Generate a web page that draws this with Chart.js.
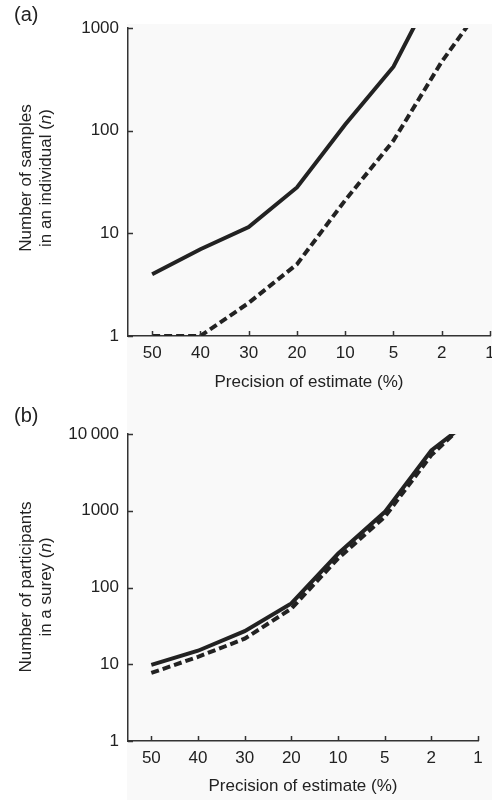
<!DOCTYPE html>
<html>
<head>
<meta charset="utf-8">
<script src="https://cdn.jsdelivr.net/npm/chart.js@4.4.1/dist/chart.umd.min.js"></script>
<style>
  html, body { margin: 0; padding: 0; background: #fff; }
  body { width: 492px; height: 800px; position: relative; overflow: hidden; }
  canvas { position: absolute; left: 0; }
  #grafA { top: 0; }
  #grafB { top: 400px; }
</style>
</head>
<body>
<canvas id="grafA" width="492" height="400"></canvas>
<canvas id="grafB" width="492" height="400"></canvas>
<script>
// precision categories along the x axis
const precisao = ['50', '40', '30', '20', '10', '5', '2', '1']

// (a) samples in an individual
const amostrasSolida = [4, 7, 11.5, 28, 115, 420, 3400, 14000]
const amostrasTracejada = [1, 1, 2.1, 5, 21, 80, 470, 2100]
const ticksA = [1, 10, 100, 1000]

// (b) participants in a survey
const participantesSolida = [9.8, 15, 27, 62, 275, 960, 6100, 18000]
const participantesTracejada = [7.7, 12.5, 21.5, 53, 238, 830, 5300, 20000]
const ticksB = [1, 10, 100, 1000, 10000]

const fonte = "'Liberation Sans', Arial, sans-serif"
const corTexto = '#222'

Chart.defaults.font.family = fonte
Chart.defaults.font.size = 17
Chart.defaults.color = corTexto

function pontos(valores) {
    return valores.map((v, i) => ({ x: i, y: v }))
}

function rotuloMilhar(v) {
    return v >= 10000 ? String(v).replace(/(\d)(?=(\d{3})+$)/g, '$1\u2009') : String(v)
}

// light plot background, inside ticks, panel letter and y title
const decoracao = {
    id: 'decoracao',
    beforeDraw(chart, args, opts) {
        const ctx = chart.ctx
        ctx.save()
        ctx.fillStyle = '#f9f9f9'
        ctx.fillRect(127, opts.fundoTopo, chart.width - 127, chart.height - opts.fundoTopo)
        ctx.restore()
    },
    afterDraw(chart, args, opts) {
        const ctx = chart.ctx
        const area = chart.chartArea
        const sx = chart.scales.x
        const sy = chart.scales.y
        ctx.save()
        ctx.strokeStyle = '#333'
        ctx.lineWidth = 1.5
        ctx.beginPath()
        sx.ticks.forEach(t => {
            let px = Math.round(sx.getPixelForValue(t.value)) + 0.5
            ctx.moveTo(px, area.bottom)
            ctx.lineTo(px, area.bottom - 5)
        })
        sy.ticks.forEach(t => {
            let py = Math.round(sy.getPixelForValue(t.value)) + 0.5
            ctx.moveTo(area.left, py)
            ctx.lineTo(area.left + 5, py)
        })
        ctx.stroke()

        ctx.fillStyle = corTexto
        ctx.font = '20px ' + fonte
        ctx.textBaseline = 'middle'
        ctx.textAlign = 'left'
        ctx.fillText(opts.letra, 14, opts.letraY)

        // rotated two-line y title, with italic n
        ctx.translate(0, opts.tituloY)
        ctx.rotate(-Math.PI / 2)
        ctx.font = '17px ' + fonte
        ctx.textAlign = 'center'
        ctx.fillText(opts.linha1, 0, opts.x1)
        let partes = [[opts.linha2, '17px '], ['n', 'italic 17px '], [')', '17px ']]
        let total = 0
        partes.forEach(p => { ctx.font = p[1] + fonte; total += ctx.measureText(p[0]).width })
        let x = -total / 2
        ctx.textAlign = 'left'
        partes.forEach(p => {
            ctx.font = p[1] + fonte
            ctx.fillText(p[0], x, opts.x2)
            x += ctx.measureText(p[0]).width
        })
        ctx.restore()
    }
}

function montarGrafico(id, solida, tracejada, ticksY, yMax, cfg) {
    const ctx = document.getElementById(id).getContext('2d')
    return new Chart(ctx, {
        type: 'line',
        data: {
            datasets: [
                {
                    label: 'solid',
                    data: pontos(solida),
                    borderColor: '#222',
                    borderWidth: 4,
                    pointRadius: 0,
                    tension: 0,
                    fill: false
                },
                {
                    label: 'dashed',
                    data: pontos(tracejada),
                    borderColor: '#222',
                    borderWidth: 4,
                    borderDash: [8, 4],
                    pointRadius: 0,
                    tension: 0,
                    fill: false
                }
            ]
        },
        options: {
            responsive: false,
            animation: false,
            layout: { padding: { top: cfg.topo, right: cfg.direita, left: 0, bottom: 0 } },
            plugins: {
                legend: { display: false },
                tooltip: { enabled: false },
                decoracao: cfg.deco
            },
            scales: {
                x: {
                    type: 'linear',
                    min: -0.5,
                    max: 7,
                    grid: { display: false, drawTicks: false },
                    border: { display: true, color: '#333', width: 1.5 },
                    afterBuildTicks: s => { s.ticks = precisao.map((p, i) => ({ value: i })) },
                    afterFit: s => {
                        s.height = cfg.alturaX
                        s.paddingRight = 0
                        s.paddingLeft = 0
                    },
                    ticks: {
                        padding: 7,
                        maxRotation: 0,
                        autoSkip: false,
                        callback: v => precisao[v]
                    },
                    title: {
                        display: true,
                        text: 'Precision of estimate (%)',
                        padding: { top: 0, bottom: cfg.tituloXpad }
                    }
                },
                y: {
                    type: 'logarithmic',
                    min: 1,
                    max: yMax,
                    grid: { display: false, drawTicks: false },
                    border: { display: true, color: '#333', width: 1.5 },
                    afterBuildTicks: s => { s.ticks = ticksY.map(v => ({ value: v })) },
                    afterFit: s => {
                        s.width = 128
                        s.paddingTop = 0
                        s.paddingBottom = 0
                    },
                    ticks: {
                        padding: 9,
                        autoSkip: false,
                        callback: v => rotuloMilhar(v)
                    }
                }
            }
        },
        plugins: [decoracao]
    })
}

montarGrafico('grafA', amostrasSolida, amostrasTracejada, ticksA, 1000, {
    topo: 28, direita: 2, alturaX: 64, tituloXpad: 7,
    deco: { letra: '(a)', letraY: 15, fundoTopo: 24, tituloY: 178, x1: 26, x2: 46,
        linha1: 'Number of samples', linha2: 'in an individual (' }
})

montarGrafico('grafB', participantesSolida, participantesTracejada, ticksB, 10000, {
    topo: 34, direita: 14, alturaX: 59, tituloXpad: 3,
    deco: { letra: '(b)', letraY: 16, fundoTopo: 0, tituloY: 187, x1: 26, x2: 46,
        linha1: 'Number of participants', linha2: 'in a surey (' }
})
</script>
</body>
</html>
